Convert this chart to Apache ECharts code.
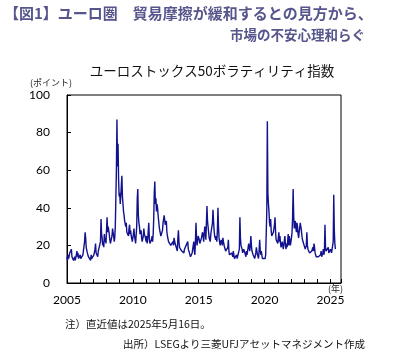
<!DOCTYPE html>
<html><head><meta charset="utf-8">
<script src="https://cdn.jsdelivr.net/npm/echarts@6/dist/echarts.min.js"></script>
<style>html,body{margin:0;padding:0;background:#fff}#c{width:399px;height:355px}</style>
</head><body><div id="c"></div>
<script>
// VSTOXX, half-monthly readings (1st and 16th of each month)
const v2005 = [14,12,15,13,14,16,17,15,18,14,13,15,12,13,14,12,13,15,17,14,16,13,14,12];
const v2006 = [15,13,14,13,13,15,14,16,22,27,24,19,20,16,17,14,15,13,14,12,15,13,14,13];
const v2007 = [14,15,14,18,21,16,15,16,14,17,18,16,17,22,34,26,24,20,22,19,26,22,24,21];
const v2008 = [28,35,27,30,31,26,23,21,20,22,25,29,28,25,22,24,30,45,60,87,62,74,55,46];
const v2009 = [48,42,46,52,57,46,42,38,36,33,34,30,32,27,26,28,25,29,31,26,28,25,24,22];
const v2010 = [22,26,29,25,23,21,22,30,45,50,36,32,30,26,25,28,24,22,23,25,29,26,27,24];
const v2011 = [22,25,21,23,24,32,24,21,22,20,23,25,22,26,34,48,54,42,45,38,42,40,36,33];
const v2012 = [30,28,27,25,24,26,28,32,33,36,35,31,30,33,27,25,24,22,23,21,22,20,19,21];
const v2013 = [19,22,20,24,23,21,20,19,18,17,24,28,22,19,18,20,19,17,18,16,17,16,18,17];
const v2014 = [18,20,21,19,22,18,17,16,15,14,14,13,16,18,20,22,17,15,22,32,24,20,21,25];
const v2015 = [26,23,21,20,22,24,23,27,25,22,26,30,28,23,22,41,33,30,27,24,23,22,26,28];
const v2016 = [28,32,39,33,28,25,24,23,25,22,28,40,30,24,22,20,21,23,22,20,24,22,21,19];
const v2017 = [19,17,16,18,17,19,23,17,15,14,15,14,16,15,14,17,15,13,14,13,14,15,13,14];
const v2018 = [14,13,18,35,24,20,21,18,16,15,18,17,16,15,14,17,15,14,19,21,19,17,20,25];
const v2019 = [20,17,16,15,14,16,13,14,16,19,17,15,14,13,17,23,18,15,17,15,13,12,13,14];
const v2020 = [14,13,15,14,38,86,48,42,38,32,30,34,28,25,24,26,27,29,31,35,27,23,22,24];
const v2021 = [21,24,27,22,25,21,19,18,22,20,18,17,19,25,20,18,21,19,22,26,20,25,23,20];
const v2022 = [20,24,27,35,50,36,29,31,33,29,27,32,30,26,24,27,28,32,33,28,25,23,22,24];
const v2023 = [20,19,18,19,20,27,20,18,17,19,16,15,16,15,17,18,19,17,21,19,16,15,14,15];
const v2024 = [14,15,14,13,14,13,15,17,14,13,16,18,15,17,31,19,17,16,18,17,19,16,17,16];
const v2025 = [18,17,16,18,20,22,47,28,21,18];
const years = [2005,2006,2007,2008,2009,2010,2011,2012,2013,2014,2015,2016,2017,2018,2019,2020,2021,2022,2023,2024,2025];
const yearValues = [v2005,v2006,v2007,v2008,v2009,v2010,v2011,v2012,v2013,v2014,v2015,v2016,v2017,v2018,v2019,v2020,v2021,v2022,v2023,v2024,v2025];
const yTicks = [0,20,40,60,80,100];
const xLabelYears = [2005,2010,2015,2020,2025];

const data = [];
years.forEach((yr, i) => {
  yearValues[i].forEach((v, j) => {
    const month = Math.floor(j / 2), half = j % 2;
    data.push([yr + (month + half * 0.5) / 12, v]);
  });
});

const FONT = '"Noto Sans CJK JP", "Noto Sans", sans-serif';
const chart = echarts.init(document.getElementById('c'), null, {renderer: 'canvas'});
chart.setOption({
  animation: false,
  backgroundColor: '#fff',
  grid: {left: 67, top: 95, width: 274, height: 188, show: true, borderColor: '#000', borderWidth: 1, backgroundColor: 'transparent'},
  xAxis: {
    type: 'value', min: 2005, max: 2025.8, interval: 1,
    axisLine: {show: true, lineStyle: {color: '#000', width: 1}},
    axisTick: {show: true, inside: true, length: 4, lineStyle: {color: '#000'}},
    splitLine: {show: false},
    axisLabel: {
      margin: 11, color: '#000', fontSize: 12, fontFamily: 'Lato, sans-serif',
      formatter: v => xLabelYears.includes(Math.round(v * 1000) / 1000) ? String(v) : ''
    }
  },
  yAxis: {
    type: 'value', min: yTicks[0], max: yTicks[yTicks.length - 1], interval: 20,
    axisLine: {show: true, lineStyle: {color: '#000', width: 1}},
    axisTick: {show: true, inside: true, length: 4, lineStyle: {color: '#000'}},
    splitLine: {show: false},
    axisLabel: {margin: 17, color: '#000', fontSize: 12, fontFamily: 'Lato, sans-serif'}
  },
  series: [{
    type: 'line', data: data, showSymbol: false, symbol: 'none',
    lineStyle: {color: '#12128f', width: 1.4}, z: 3
  }],
  graphic: [
    {type: 'text', left: 4, top: 6, style: {text: '【図1】ユーロ圏　貿易摩擦が緩和するとの見方から、', fill: '#56568c', font: 'bold 15px ' + FONT}},
    {type: 'text', right: 34, top: 28, style: {text: '市場の不安心理和らぐ', fill: '#56568c', font: 'bold 13.5px ' + FONT}},
    {type: 'text', x: 212, y: 71, style: {text: 'ユーロストックス50ボラティリティ指数', fill: '#111', font: '13.5px ' + FONT, align: 'center', verticalAlign: 'middle'}},
    {type: 'text', x: 30, y: 83, style: {text: '(ポイント)', fill: '#222', font: '9px ' + FONT, verticalAlign: 'middle'}},
    {type: 'text', x: 343, y: 289, style: {text: '(年)', fill: '#222', font: '9px ' + FONT, align: 'right', verticalAlign: 'middle'}},
    {type: 'text', x: 65, y: 324, style: {text: '注）直近値は2025年5月16日。', fill: '#111', font: '10.5px ' + FONT, verticalAlign: 'middle'}},
    {type: 'text', x: 123, y: 344, style: {text: '出所）LSEGより三菱UFJアセットマネジメント作成', fill: '#111', font: '10.5px ' + FONT, verticalAlign: 'middle'}}
  ]
});
</script></body></html>
